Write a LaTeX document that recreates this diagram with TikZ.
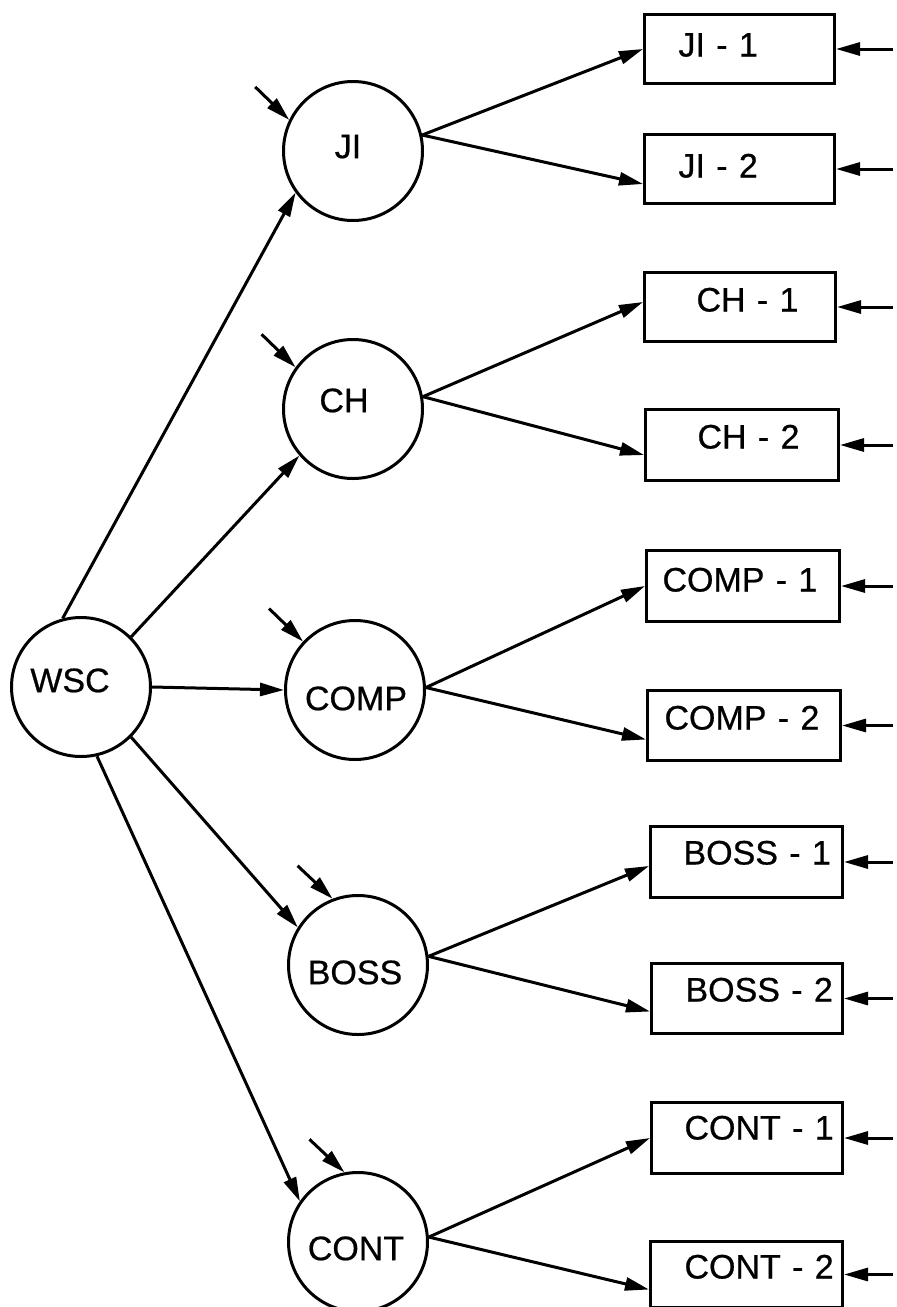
\documentclass[tikz,border=0pt]{standalone}
\usepackage{fontspec}
\setmainfont{Liberation Sans}[FakeBold=0.6]
\usetikzlibrary{arrows.meta}
\tikzset{
  lbl/.style={font=\fontsize{34pt}{40pt}\selectfont},
  circ/.style={lbl, draw, circle, line width=3pt, minimum size=139pt, inner sep=0pt,
    text width=110pt, align=center, text depth=10pt},
  boxn/.style={lbl, draw, rectangle, line width=3pt, inner sep=0pt, anchor=north west, align=left},
  arr/.style={line width=3pt, -{Triangle[length=24pt,width=13pt]}}
}
\begin{document}
\begin{tikzpicture}[x=1pt,y=-1pt]
\useasboundingbox (0,0) rectangle (897,1307);
% circles
\node[circ, text height=20.3pt] (WSC)  at (81,687)  {\hspace*{-22pt}WSC};
\node[circ, text height=24.3pt] (JI)   at (353,151) {\hspace*{-10pt}JI};
\node[circ, text height=16.3pt] (CH)   at (353,409) {\hspace*{-18pt}CH};
\node[circ, text height=50.3pt] (COMP) at (355,690) {\hspace*{2pt}COMP};
\node[circ, text height=48.3pt] (BOSS) at (358,965) {\hspace*{-6pt}BOSS};
\node[circ, text height=46.3pt] (CONT) at (358,1242) {\hspace*{-4pt}CONT};
% boxes
\node[boxn, text width=190pt, text height=42pt, text depth=27pt] (JI1) at (643,13) {\hspace*{34pt}JI - 1};
\node[boxn, text width=190pt, text height=43pt, text depth=26pt] (JI2) at (643,133) {\hspace*{34pt}JI - 2};
\node[boxn, text width=191pt, text height=39pt, text depth=30pt] (CH1) at (643,271) {\hspace*{52pt}CH - 1};
\node[boxn, text width=193pt, text height=39pt, text depth=32pt] (CH2) at (644,408) {\hspace*{52pt}CH - 2};
\node[boxn, text width=193pt, text height=41pt, text depth=30pt] (COMP1) at (645,549) {\hspace*{16pt}COMP - 1};
\node[boxn, text width=193pt, text height=39pt, text depth=31pt] (COMP2) at (646,689) {\hspace*{17pt}COMP - 2};
\node[boxn, text width=192pt, text height=38pt, text depth=33pt] (BOSS1) at (649,825) {\hspace*{33pt}BOSS - 1};
\node[boxn, text width=191pt, text height=38pt, text depth=32pt] (BOSS2) at (650,962) {\hspace*{34pt}BOSS - 2};
\node[boxn, text width=191pt, text height=37pt, text depth=34pt] (CONT1) at (650,1101) {\hspace*{33pt}CONT - 1};
\node[boxn, text width=192pt, text height=37pt, text depth=29pt] (CONT2) at (649,1240) {\hspace*{34pt}CONT - 2};
% WSC to second level
\draw[arr] (WSC.105) -- (JI.216);
\draw[arr] (WSC.45) -- (CH.221);
\draw[arr] (WSC.east) -- (COMP.west);
\draw[arr] (WSC.-45) -- (BOSS.148);
\draw[arr] (WSC.-77) -- (CONT.145);
% fans
\draw[arr] (JI.13) -- (JI1.west);
\draw[arr] (JI.13) -- ([yshift=-15pt]JI2.west);
\draw[arr] (CH.10) -- ([yshift=5pt]CH1.west);
\draw[arr] (CH.10) -- ([yshift=-10pt]CH2.west);
\draw[arr] (COMP.2) -- (COMP1.west);
\draw[arr] (COMP.2) -- ([yshift=-14pt]COMP2.west);
\draw[arr] (BOSS.7) -- ([yshift=-4pt]BOSS1.west);
\draw[arr] (BOSS.7) -- ([yshift=-13pt]BOSS2.west);
\draw[arr] (CONT.4) -- (CONT1.west);
\draw[arr] (CONT.4) -- ([yshift=-15pt]CONT2.west);
% small input arrows on circles
\coordinate (sJI)   at ([shift={(-34pt,33pt)}]JI.154.5);
\coordinate (sCH)   at ([shift={(-34pt,33pt)}]CH.144);
\coordinate (sCOMP) at ([shift={(-34pt,33pt)}]COMP.137);
\coordinate (sBOSS) at ([shift={(-35pt,33pt)}]BOSS.111);
\coordinate (sCONT) at ([shift={(-35pt,33pt)}]CONT.101.5);
\draw[arr] (sJI) -- (JI.154.5);
\draw[arr] (sCH) -- (CH.144);
\draw[arr] (sCOMP) -- (COMP.137);
\draw[arr] (sBOSS) -- (BOSS.111);
\draw[arr] (sCONT) -- (CONT.101.5);
% input arrows on boxes
\coordinate (rx) at (893,0);
\foreach \b in {JI1,JI2,CH1,CH2,COMP1,COMP2,BOSS1,BOSS2,CONT1,CONT2}{
  \coordinate (r\b) at (\b.east -| rx);
  \draw[arr] (r\b) -- (\b.east);
}
\end{tikzpicture}
\end{document}
